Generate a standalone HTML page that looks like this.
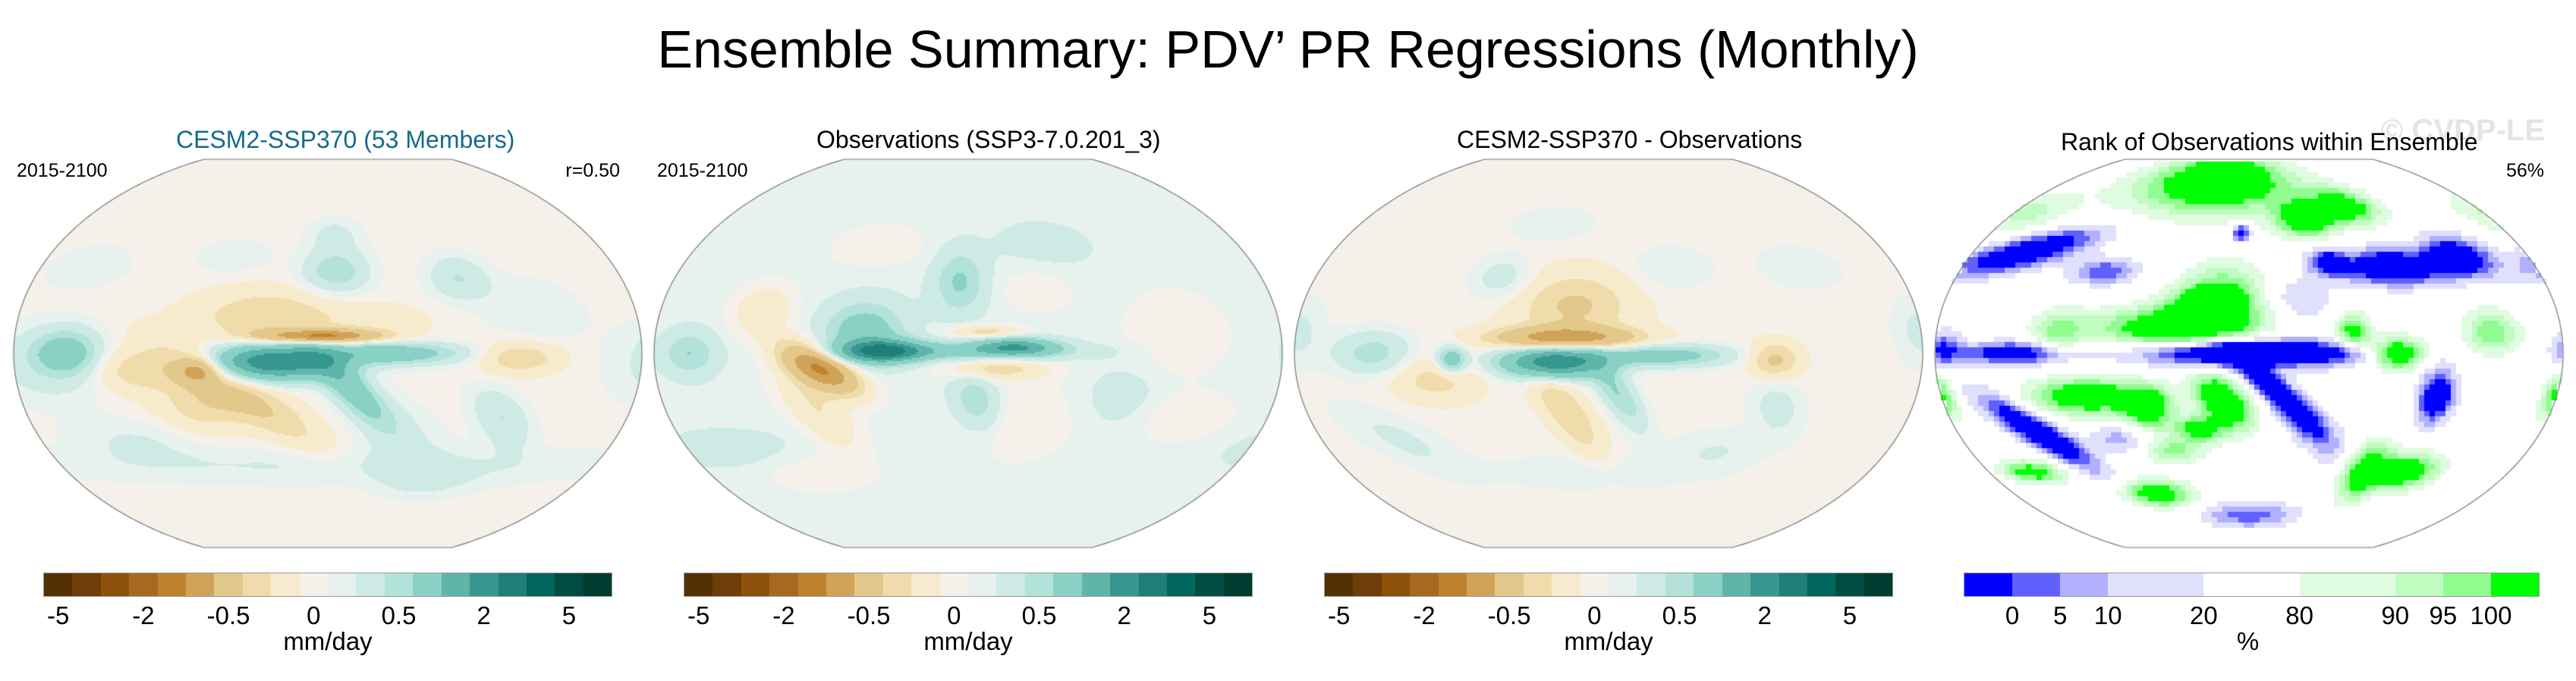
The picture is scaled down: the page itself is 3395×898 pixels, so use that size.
<!DOCTYPE html>
<html><head><meta charset="utf-8">
<style>
html,body{margin:0;padding:0;background:#fff;}
body{width:3395px;height:898px;position:relative;overflow:hidden;font-family:"Liberation Sans",sans-serif;}
.t{position:absolute;white-space:nowrap;line-height:1;}
canvas{position:absolute;}
.cb{position:absolute;display:flex;height:30px;top:756px;outline:1px solid #9a9a9a;}
.cb div{height:100%;}
</style></head>
<body>
<div class="t" style="left:0;width:3395px;text-align:center;top:30px;font-size:70px;">Ensemble Summary: PDV’ PR Regressions (Monthly)</div>

<div class="t" style="left:232px;width:400px;text-align:center;top:168px;font-size:32px;color:#156b8a;">CESM2-SSP370 (53 Members)</div>
<div class="t" style="left:22px;top:213px;font-size:25px;">2015-2100</div>
<div class="t" style="left:617px;width:200px;text-align:right;top:213px;font-size:25px;">r=0.50</div>

<div class="t" style="left:1076px;width:400px;text-align:center;top:168px;font-size:32px;">Observations (SSP3-7.0.201_3)</div>
<div class="t" style="left:866px;top:213px;font-size:25px;">2015-2100</div>

<div class="t" style="left:1920px;width:400px;text-align:center;top:168px;font-size:32px;">CESM2-SSP370 - Observations</div>

<div class="t" style="left:3054px;width:300px;text-align:right;top:152px;font-size:40px;font-weight:bold;color:#e4e4e4;">© CVDP-LE</div>
<div class="t" style="left:2716px;width:500px;text-align:center;top:171px;font-size:32px;">Rank of Observations within Ensemble</div>
<div class="t" style="left:3153px;width:200px;text-align:right;top:213px;font-size:25px;">56%</div>

<canvas id="m1" width="840" height="520" style="left:12px;top:206px;"></canvas>
<canvas id="m2" width="840" height="520" style="left:856px;top:206px;"></canvas>
<canvas id="m3" width="840" height="520" style="left:1700px;top:206px;"></canvas>
<canvas id="m4" width="840" height="520" style="left:2544px;top:206px;"></canvas>

<div id="cbs"></div>

<script>
// ---- colorbar data ----
const prColors = ["#543005","#6f3d0a","#8c510a","#a66a1f","#bf812d","#d0a358","#e2c88a","#f0dcaa","#f6ebcc","#f5f1ea","#e7f1ee","#cdeae5","#b2e2da","#8ad1c5","#5fb5a9","#35978f","#1d7f76","#01665e","#014c42","#003c30"];
const prLevels = [-5,-4,-3,-2,-1.5,-1,-0.5,-0.3,-0.1,0,0.1,0.3,0.5,1,1.5,2,3,4,5];
const prTickLabels = ["-5","-2","-0.5","0","0.5","2","5"];
const prTickIdx = [1,4,7,10,13,16,19];
const rankColors = ["#0000ff","#6060ff","#b0b0ff","#e0e0fc","#ffffff","#e0fce0","#c0fcc0","#90fc90","#00ff00"];
const rankUnits = [1,1,1,2,2,2,1,1,1];
const rankLevels = [-0.62,-0.45,-0.3,-0.14,0.14,0.3,0.45,0.62];
const rankTickLabels = ["0","5","10","20","80","90","95","100"];

// ---- field anomaly features (lon, lat, sx, sy, angle, amplitude) ----
const p1Lon = [180,245,222,205,175,160,135,100,60,50,215,290,320,315,210,215,250,135,90,330,60,150,280,240];
const p1Lat = [-4,0,-15,8,17,-20,-25,-8,0,-5,38,35,-2,-30,-52,55,-35,-8,-40,20,40,45,-60,15];
const p1Sx  = [35,40,28,32,40,50,25,28,18,35,20,18,22,22,220,18,35,12,40,30,25,25,40,30];
const p1Sy  = [8,5,8,3,12,11,12,10,10,18,10,10,7,10,9,8,14,6,10,15,10,8,8,8];
const p1Ang = [0,0,-35,0,0,-25,0,0,0,0,0,0,0,-30,0,0,-20,0,0,0,0,0,0,0];
const p1Amp = [2.0,0.9,0.8,-1.6,-0.45,-0.5,-0.35,-0.4,0.7,0.25,0.5,0.35,-0.45,0.35,0.16,0.2,0.2,-0.9,0.15,0.14,0.15,0.13,0.15,-0.15];
const p1Base = -0.05;

const p2Lon = [162,237,200,150,220,225,125,120,90,205,215,50,300,60,260,240,330,150,250,340,100];
const p2Lat = [1,3,1,10,10,-7,-7,-25,20,33,-22,0,-20,-45,50,-30,10,50,30,-30,-55];
const p2Sx  = [22,22,65,22,20,28,22,25,18,15,15,15,22,45,35,35,30,30,25,30,40];
const p2Sy  = [5,4,4,13,3,5,8,14,12,14,12,10,14,10,12,20,20,10,12,12,10];
const p2Ang = [0,0,0,0,0,0,-20,-40,0,0,-35,0,0,0,0,0,0,0,0,0,0];
const p2Amp = [1.8,1.3,0.6,0.7,-0.45,-0.45,-1.6,-0.35,-0.3,0.5,0.45,0.45,0.15,0.15,0.12,-0.15,-0.15,-0.15,-0.12,-0.14,-0.14];
const p2Base = 0.05;

const p3Lon = [185,190,178,240,215,120,185,110,75,305,145,310,80,200,250,30,330,170,280];
const p3Lat = [7,22,-4,-1,-18,-3,-27,-12,0,-3,35,-25,-40,-55,40,10,40,60,-45];
const p3Sx  = [38,32,28,38,22,8,28,25,22,14,18,18,35,70,25,15,25,30,30];
const p3Sy  = [5,15,7,5,8,6,10,10,10,8,10,12,12,9,10,15,10,8,10];
const p3Ang = [0,0,0,0,-45,0,-45,0,0,0,0,-30,-20,0,0,0,0,0,0];
const p3Amp = [-1.3,-0.5,2.0,0.8,0.55,0.9,-0.45,-0.35,0.45,-0.55,0.25,0.22,0.18,0.13,0.15,0.2,0.15,0.14,0.15];
const p3Base = -0.05;

const p4Lon = [215,210,225,170,195,185,180,250,285,300,345,260,65,120,75,35,80,115,150,195,180,295,270,320,290,320,140,60,210,30,350,205,250,40,240,100,160,130];
const p4Lat = [0,1,-17,12,28,22,80,62,68,40,45,42,47,38,0,2,-37,-20,-25,-22,-35,0,10,-20,-55,-55,-65,-55,-75,-20,10,56,-35,65,25,10,-45,-40];
const p4Sx  = [55,70,30,45,25,20,70,20,25,30,20,12,40,20,30,10,30,30,15,18,15,15,10,10,15,20,25,20,40,8,15,6,30,30,20,15,20,20];
const p4Sy  = [5,10,6,9,14,8,14,8,8,8,9,6,8,6,5,8,8,8,10,10,6,7,8,12,12,8,6,5,6,10,10,4,10,10,10,10,6,6];
const p4Ang = [0,0,-35,0,0,0,0,0,0,0,0,0,10,0,0,0,-30,0,0,-30,0,0,0,0,0,0,0,0,0,0,0,0,-30,0,0,0,0,0];
const p4Amp = [-1.2,-0.35,-1.0,1.1,0.6,0.9,1.1,0.9,0.9,-1.1,-1.0,-0.8,-1.0,-0.6,-0.9,-0.6,-1.1,1.0,0.9,1.1,0.8,1.1,0.8,-1.0,1.0,0.9,0.9,0.8,-0.55,0.7,0.6,-0.9,-0.4,0.35,-0.3,0.5,0.5,-0.4];
const p4Base = 0;

// ---- projection (center lon 210) ----
const CLON = 210, HW = 414, HH = 256, K = 0.919;
function field(lon, lat, L, La, Sx, Sy, An, Am, base){
  let v = base;
  for (let i=0;i<L.length;i++){
    const d = ((lon - L[i] + 540) % 360) - 180;
    const dl = lat - La[i];
    const a = An[i]*Math.PI/180;
    const u = d*Math.cos(a) + dl*Math.sin(a);
    const w = -d*Math.sin(a) + dl*Math.cos(a);
    v += Am[i]*Math.exp(-(u/Sx[i])*(u/Sx[i]) - (w/Sy[i])*(w/Sy[i]));
  }
  return v;
}
function colorFor(v, levels, colors){
  let i=0; while(i<levels.length && v>=levels[i]) i++;
  return colors[i];
}
function drawMap(id, L, La, Sx, Sy, An, Am, base, levels, colors, step){
  const c = document.getElementById(id), g = c.getContext('2d');
  const cx = 420, cy = 260;
  for (let py=0; py<520; py+=step){
    for (let px=0; px<840; px+=step){
      const lat = (cy - (py+step/2))/HH*90;
      if (Math.abs(lat) > 90) continue;
      const f = Math.sqrt(1 - Math.pow(lat/90*K,2));
      const dlon = ((px+step/2) - cx)/(HW*f)*180;
      if (Math.abs(dlon) > 180) continue;
      g.fillStyle = colorFor(field(CLON+dlon, lat, L, La, Sx, Sy, An, Am, base), levels, colors);
      g.fillRect(px, py, step, step);
    }
  }
  g.strokeStyle = "#777"; g.lineWidth = 1.2; g.beginPath();
  for (let lat=90; lat>=-90; lat-=1){ const f=Math.sqrt(1-Math.pow(lat/90*K,2)); const x=cx+HW*f, y=cy-lat/90*HH; lat===90?g.moveTo(x,y):g.lineTo(x,y); }
  for (let lat=-90; lat<=90; lat+=1){ const f=Math.sqrt(1-Math.pow(lat/90*K,2)); g.lineTo(cx-HW*f, cy-lat/90*HH); }
  g.closePath(); g.stroke();
}
drawMap('m1', p1Lon,p1Lat,p1Sx,p1Sy,p1Ang,p1Amp,p1Base, prLevels, prColors, 2);
drawMap('m2', p2Lon,p2Lat,p2Sx,p2Sy,p2Ang,p2Amp,p2Base, prLevels, prColors, 2);
drawMap('m3', p3Lon,p3Lat,p3Sx,p3Sy,p3Ang,p3Amp,p3Base, prLevels, prColors, 2);
drawMap('m4', p4Lon,p4Lat,p4Sx,p4Sy,p4Ang,p4Amp,p4Base, rankLevels, rankColors, 7);

// ---- colorbars ----
const host = document.getElementById('cbs');
function label(text, cxp, top, size, name){
  const t = document.createElement('div');
  t.className = 't';
  
  
  t.style.cssText = `left:${cxp-100}px;width:200px;text-align:center;top:${top}px;font-size:${size}px;`;
  t.textContent = text; host.appendChild(t);
}
[0,1,2].forEach(p => {
  const left = 58 + p*844, width = 748;
  const bar = document.createElement('div');
  bar.className = 'cb';
  
  
  bar.style.left = left + 'px'; bar.style.width = width + 'px';
  prColors.forEach(col => {
    const s = document.createElement('div');
    
    
    s.style.flex = '1'; s.style.background = col; bar.appendChild(s);
  });
  host.appendChild(bar);
  const seg = width / prColors.length;
  prTickLabels.forEach((lab, i) => label(lab, left + prTickIdx[i]*seg - 0.5*seg, 795, 33, 'colorbar-tick-label'));
  label('mm/day', left + width/2, 829, 33, 'colorbar-units');
});
{
  const left = 2589, width = 757;
  const bar = document.createElement('div');
  bar.className = 'cb';
  
  
  bar.style.left = left + 'px'; bar.style.width = width + 'px';
  rankColors.forEach((col, i) => {
    const s = document.createElement('div');
    
    
    s.style.flex = String(rankUnits[i]); s.style.background = col; bar.appendChild(s);
  });
  host.appendChild(bar);
  const total = rankUnits.reduce((a,b)=>a+b,0);
  let acc = 0;
  rankTickLabels.forEach((lab, i) => { acc += rankUnits[i]; label(lab, left + acc/total*width, 795, 33, 'colorbar-tick-label'); });
  label('%', left + width/2 - 5, 829, 33, 'colorbar-units');
}
</script>
</body></html>
